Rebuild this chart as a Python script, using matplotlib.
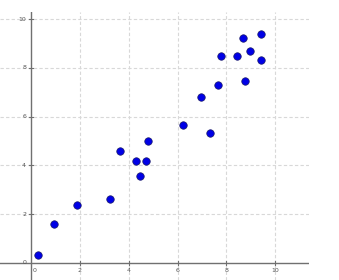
import matplotlib
matplotlib.use("Agg")
import matplotlib.pyplot as plt

x_vals = [8.68, 9.43, 7.77, 8.44, 8.98, 9.40, 8.76, 7.67, 6.97, 6.21,
          7.33, 3.66, 4.29, 4.71, 4.46, 4.78, 3.23, 1.88, 0.94, 0.27]
y_vals = [9.22, 9.37, 8.50, 8.50, 8.69, 8.32, 7.47, 7.28, 6.79, 5.67,
          5.32, 4.60, 4.19, 4.17, 3.57, 5.01, 2.62, 2.38, 1.61, 0.33]
ticks = [0, 2, 4, 6, 8, 10]

fig = plt.figure(figsize=(3.39, 2.80), dpi=100)
ax = fig.add_axes([0, 0, 309 / 339, 1 - 12 / 280])
ax.set_xlim(-1.27, 11.38)
ax.set_ylim(-0.70, 10.29)

# Dashed grid
for t in ticks[1:]:
    ax.axvline(t, color="#d8d8d8", linestyle=(0, (3, 2)), linewidth=0.8, zorder=0)
    ax.axhline(t, color="#d8d8d8", linestyle=(0, (3, 2)), linewidth=0.8, zorder=0)

# Axes through origin
ax.axhline(0, color="#707070", linewidth=1.0, zorder=1)
ax.axvline(0, color="#707070", linewidth=1.0, zorder=1)
for s in ax.spines.values():
    s.set_visible(False)
ax.set_xticks([])
ax.set_yticks([])

# Tick marks and labels
for t in ticks:
    if t != 0:
        ax.plot([t, t], [-0.08, 0.08], color="#707070", linewidth=0.8)
        ax.plot([-0.08, 0.08], [t, t], color="#707070", linewidth=0.8)
    ax.text(t + 0.15 if t == 0 else t, -0.22, str(t), fontsize=4.5,
            color="#555555", ha="center", va="top")
    ax.text(-0.2, t, str(t), fontsize=4.5, color="#555555",
            ha="right", va="center")

ax.scatter(x_vals, y_vals, s=29, color="#0000e6", edgecolors="#1a1a66",
           linewidths=0.5, zorder=3)

fig.savefig("out.png", dpi=100)
